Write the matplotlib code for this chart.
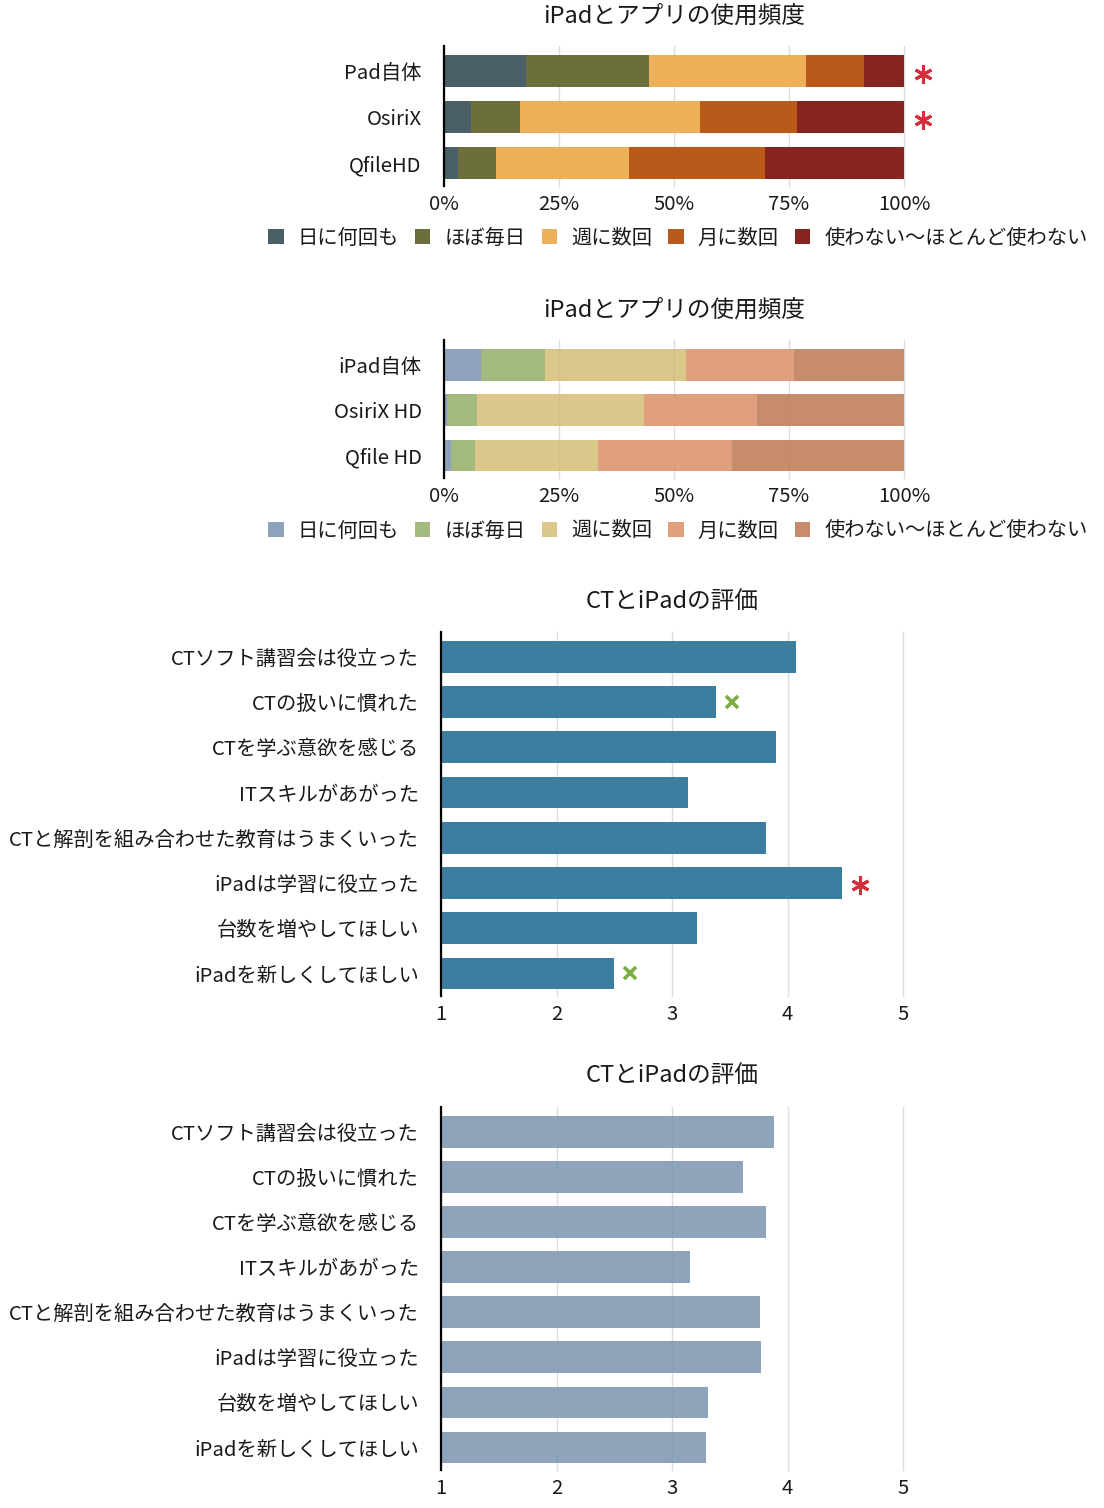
import matplotlib
matplotlib.use('Agg')
import matplotlib.pyplot as plt
import matplotlib.transforms as mtransforms
from matplotlib.patches import Patch
import numpy as np

plt.rcParams['font.family'] = ['Noto Sans CJK JP', 'DejaVu Sans']

# ---------------- data ----------------
freq_title = 'iPadとアプリの使用頻度'
freq_levels = ['日に何回も', 'ほぼ毎日', '週に数回', '月に数回', '使わない〜ほとんど使わない']
freq_xticks = [0, 25, 50, 75, 100]
freq_xticklabels = ['0%', '25%', '50%', '75%', '100%']

apps1 = ['Pad自体', 'OsiriX', 'QfileHD']
freq1 = [[17.9, 26.7, 34.1, 12.6, 8.7],
         [5.9, 10.7, 39.1, 21.1, 23.3],
         [3.1, 8.2, 28.9, 29.6, 30.2]]
sig1 = ['*', '*', '']

apps2 = ['iPad自体', 'OsiriX HD', 'Qfile HD']
freq2 = [[8.1, 13.9, 30.6, 23.5, 24.0],
         [0.6, 6.6, 36.2, 24.7, 31.8],
         [1.5, 5.2, 26.7, 29.3, 37.2]]

eval_title = 'CTとiPadの評価'
eval_items = ['CTソフト講習会は役立った', 'CTの扱いに慣れた', 'CTを学ぶ意欲を感じる',
              'ITスキルがあがった', 'CTと解剖を組み合わせた教育はうまくいった',
              'iPadは学習に役立った', '台数を増やしてほしい', 'iPadを新しくしてほしい']
eval1 = [4.07, 3.38, 3.90, 3.14, 3.815, 4.47, 3.217, 2.50]
sig3 = ['', 'x', '', '', '', '*', '', 'x']
eval2 = [3.884, 3.613, 3.815, 3.156, 3.763, 3.772, 3.312, 3.295]
eval_xticks = [1, 2, 3, 4, 5]

# ---------------- styles ----------------
colors1 = ['#4A6066', '#6C6E3C', '#EEB15A', '#B95A1A', '#88241F']
colors2 = ['#7993B0', '#93AD68', '#D5BD75', '#DC8F66', '#BC7852']
alpha2 = 0.85
bar3_color = '#3C7EA0'
bar4_color = '#7B94AF'
grid_color = '#DDDDDD'
red = '#D4303C'
green = '#7CAE44'
txt = '#1a1a1a'
FS = 14.6
TFS = 17

W, H = 1104, 1508
fig = plt.figure(figsize=(W / 100, H / 100), dpi=100)


def fx(px):
    return px / W


def fy(py):
    return 1 - py / H


def style_axes(ax):
    for s in ['top', 'right', 'bottom']:
        ax.spines[s].set_visible(False)
    ax.spines['left'].set_linewidth(1.6)
    ax.spines['left'].set_color('black')
    ax.tick_params(axis='both', length=0, labelsize=FS, colors=txt)
    ax.tick_params(axis='y', pad=16)
    ax.tick_params(axis='x', pad=6)
    ax.xaxis.grid(True, color=grid_color, linewidth=1)
    ax.yaxis.grid(False)
    ax.set_axisbelow(True)
    for ln in ax.get_xgridlines():
        ln.set_clip_on(False)


def offset(ax, dx_px, dy_px):
    return ax.transData + mtransforms.ScaledTranslation(dx_px / 100, -dy_px / 100, fig.dpi_scale_trans)


def freq_chart(top, bottom, apps, data, colors, alpha, legend_y, sig=None):
    ax = fig.add_axes([fx(444), fy(bottom), fx(904) - fx(444), fy(top) - fy(bottom)])
    y = np.arange(len(apps))
    arr = np.array(data)
    left = np.zeros(len(apps))
    handles = []
    for k, lev in enumerate(freq_levels):
        ax.barh(y, arr[:, k], left=left, height=0.7, color=colors[k], alpha=alpha,
                linewidth=0)
        left += arr[:, k]
        handles.append(Patch(facecolor=colors[k], alpha=alpha, linewidth=0, label=lev))
    ax.set_xlim(0, 100)
    ax.set_ylim(len(apps) - 0.5, -0.55)
    ax.set_yticks(y)
    ax.set_yticklabels(apps)
    ax.set_xticks(freq_xticks)
    ax.set_xticklabels(freq_xticklabels)
    style_axes(ax)
    if sig is not None:
        for i, s in enumerate(sig):
            if s == '*':
                ax.plot([left[i]], [i], marker=(6, 2, 0), markersize=13, mew=2.2,
                        color=red, transform=offset(ax, 19, 3), clip_on=False)
    fig.text((fx(444) + fx(904)) / 2, fy(top - 30), freq_title, ha='center', va='center',
             fontsize=TFS, color=txt)
    fig.legend(handles=handles, loc='center', bbox_to_anchor=(fx(678), fy(legend_y)),
               ncol=5, frameon=False, fontsize=FS, handlelength=0.75, handleheight=0.75,
               handletextpad=0.7, columnspacing=0.8, labelcolor=txt)
    return ax


freq_chart(46, 186, apps1, freq1, colors1, 1.0, 238, sig1)
freq_chart(340, 478, apps2, freq2, colors2, alpha2, 531)


def eval_chart(top, bottom, values, color, alpha, sig=None):
    ax = fig.add_axes([fx(441), fy(bottom), fx(903) - fx(441), fy(top) - fy(bottom)])
    y = np.arange(len(eval_items))
    v = np.array(values)
    ax.barh(y, v - 1, left=1, height=0.7, color=color, alpha=alpha, linewidth=0)
    ax.set_xlim(1, 5)
    ax.set_ylim(len(eval_items) - 0.5, -0.55)
    ax.set_yticks(y)
    ax.set_yticklabels(eval_items)
    ax.set_xticks(eval_xticks)
    ax.set_xticklabels([str(t) for t in eval_xticks])
    style_axes(ax)
    if sig is not None:
        for i, s in enumerate(sig):
            if s == '*':
                ax.plot([v[i]], [i], marker=(6, 2, 0), markersize=13, mew=2.2,
                        color=red, transform=offset(ax, 18, 2), clip_on=False)
            elif s == 'x':
                ax.plot([v[i]], [i], marker='x', markersize=8, mew=2.6,
                        color=green, transform=offset(ax, 16, 0), clip_on=False)
    fig.text((fx(441) + fx(903)) / 2, fy(top - 31), eval_title, ha='center', va='center',
             fontsize=TFS, color=txt)
    return ax


eval_chart(632, 996, eval1, bar3_color, 1.0, sig3)
eval_chart(1107, 1470, eval2, bar4_color, alpha2)

fig.savefig('out.png', dpi=100)
